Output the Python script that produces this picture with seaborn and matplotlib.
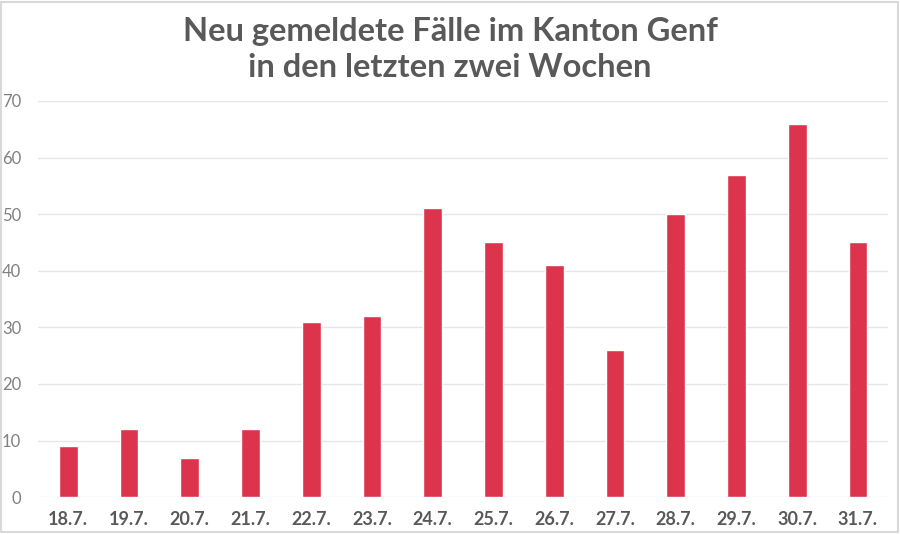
import matplotlib
matplotlib.use("Agg")
import matplotlib.pyplot as plt
import seaborn as sns
import pandas as pd

dates = ["18.7.", "19.7.", "20.7.", "21.7.", "22.7.", "23.7.", "24.7.",
         "25.7.", "26.7.", "27.7.", "28.7.", "29.7.", "30.7.", "31.7."]
cases = [9, 12, 7, 12, 31, 32, 51, 45, 41, 26, 50, 57, 66, 45]
yticks = [0, 10, 20, 30, 40, 50, 60, 70]

sns.set_style("white")
plt.rcParams["font.family"] = ["Lato", "DejaVu Sans"]

df = pd.DataFrame({"Datum": dates, "Fälle": cases})

fig = plt.figure(figsize=(9, 5.34), dpi=100)
ax = fig.add_axes([0.042, 0.069, 0.945, 0.742])

sns.barplot(data=df, x="Datum", y="Fälle", color="#dc344d", saturation=1,
            width=0.31, ax=ax)

ax.set_ylim(0, 70)
ax.set_xlim(-0.5, len(dates) - 0.5)
ax.set_yticks(yticks)
ax.yaxis.grid(True, color="#e6e6e6", linewidth=1)
ax.set_axisbelow(True)
for s in ax.spines.values():
    s.set_visible(False)
ax.set_xlabel("")
ax.set_ylabel("")
ax.tick_params(axis="y", length=0, labelsize=12, labelcolor="#808080", pad=12)
ax.tick_params(axis="x", length=0, labelsize=13, labelcolor="#595959", pad=10)
for lbl in ax.get_xticklabels():
    lbl.set_fontweight("bold")

fig.text(0.5, 0.907, "Neu gemeldete Fälle im Kanton Genf\nin den letzten zwei Wochen",
         ha="center", va="center", fontsize=23.5, fontweight="bold",
         color="#595959", linespacing=1.3)

# light frame around the picture
fig.patches.append(plt.Rectangle((0.001, 0.003), 0.997, 0.994, transform=fig.transFigure,
                                 fill=False, edgecolor="#d9d9d9", linewidth=1.5))

fig.savefig("out.png", dpi=100)
